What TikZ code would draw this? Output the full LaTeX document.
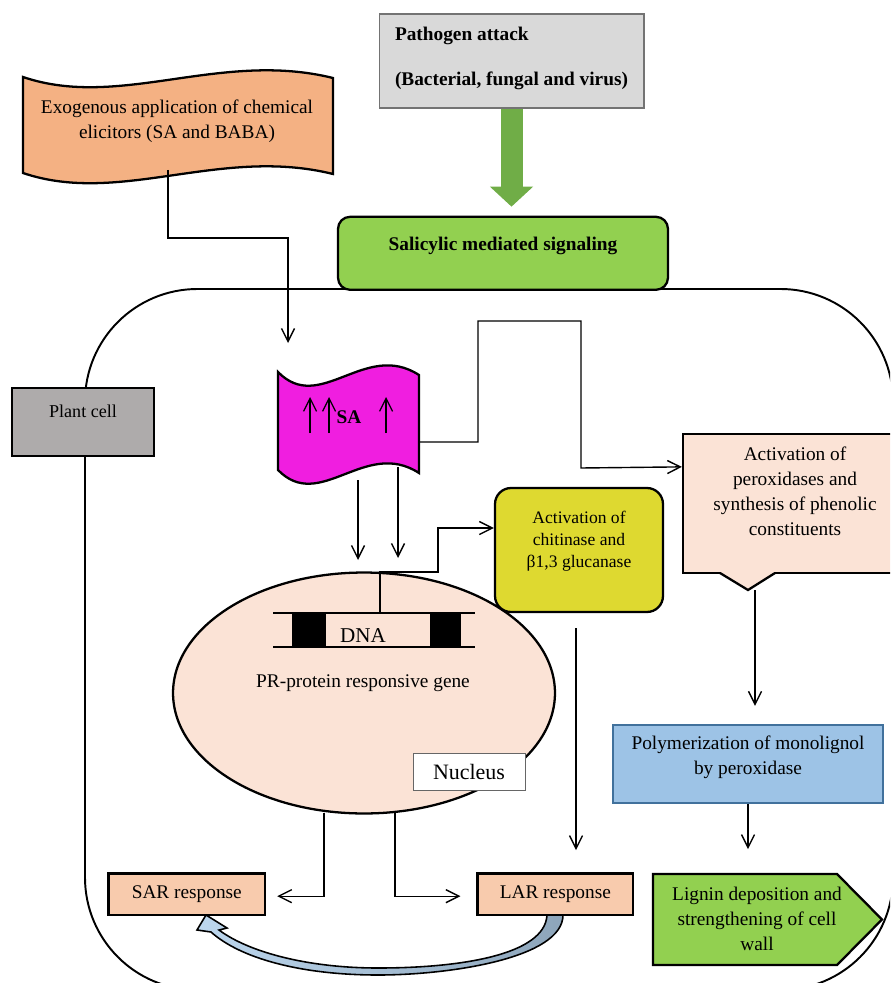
\documentclass[tikz,border=0pt]{standalone}
\usepackage{fontspec}
\setmainfont{Liberation Serif}
\usepackage{tikz}
\usetikzlibrary{arrows.meta, calc, positioning, shapes.geometric}

\definecolor{colorPathogen}{HTML}{D9D9D9}
\definecolor{colorSignal}{HTML}{92D050}
\definecolor{colorBlock}{HTML}{70AD47}
\definecolor{colorElicitor}{HTML}{F4B183}
\definecolor{colorSA}{HTML}{F01EE0}
\definecolor{colorChitinase}{HTML}{DED930}
\definecolor{colorPeach}{HTML}{FBE3D6}
\definecolor{colorResponse}{HTML}{F8CBAD}
\definecolor{colorPoly}{HTML}{9DC3E6}
\definecolor{colorPolyLine}{HTML}{41719C}
\definecolor{colorPlant}{HTML}{AEABAB}
\definecolor{colorCurveL}{HTML}{BDD7EE}
\definecolor{colorCurveR}{HTML}{8DA5BA}
\colorlet{colorLignin}{colorSignal}
\newcommand{\figfont}{\fontsize{11}{14.3}\selectfont}

\begin{document}
\begin{tikzpicture}[x=0.02cm, y=-0.02cm, >={Straight Barb[length=2.6mm,width=2.6mm]},
  every node/.style={font=\figfont, inner sep=0pt},
  box/.style={draw, line width=1.3pt, align=center},
  lift/.style={text height=0pt, text depth=#1},
  drop/.style={text height=#1, text depth=0pt},
  link/.style={->, line width=0.8pt},
  wave/.style={draw, line width=1.3pt}]
\clip (0,0) rectangle (890,983);

% plant cell outline
\draw[line width=1.1pt, rounded corners=2.25cm] (85,289) rectangle (893,990);

% top: pathogen and signaling
\node[box, fill=colorPathogen, draw=black!55, line width=0.6pt, align=left, minimum width=5.3cm, minimum height=1.88cm, drop=28.3pt, font=\figfont\bfseries] (path) at (511.5,61) {Pathogen attack\\[11.8pt](Bacterial, fungal and virus)};
\node[box, fill=colorSignal, rounded corners=0.24cm, minimum width=6.6cm, minimum height=1.46cm, lift=3.7pt, font=\figfont\bfseries] (sig) at (503,253.3) {Salicylic mediated signaling};
\draw[line width=0.44cm, colorBlock, -{Triangle[length=0.4cm,width=0.84cm]}] (path.south) -- ($(path.south |- sig.north)+(0,-9)$);

% elicitor banner
\draw[wave, fill=colorElicitor] (23,77) .. controls (120,110) and (220,50) .. (333,78) -- (333,174) .. controls (220,146) and (120,206) .. (23,173) -- cycle;
\node[align=center] (exo) at (177,121) {Exogenous application of chemical\\elicitors (SA and BABA)};
\coordinate (exoOut) at (168,170);

% SA banner
\draw[wave, fill=colorSA] (278,372) .. controls (320,415) and (365,340) .. (419,375) -- (419,473) .. controls (365,438) and (320,513) .. (278,470) -- cycle;
\node[font=\figfont\bfseries] (sa) at (349,417) {SA};
\foreach \x in {310,329,386}
  \draw[->, line width=0.7pt] (\x,433) -- (\x,397);
\coordinate (saIn) at (288,343);
\coordinate (saOut) at (419,442);
\coordinate (saL) at (358,480);
\coordinate (saR) at (398,467);

\node[box, fill=colorPlant, minimum width=2.84cm, minimum height=1.36cm, lift=4.9pt, font=\fontsize{10.3}{12}\selectfont] (plant) at (83,422) {Plant cell};

% nucleus with the gene
\node[ellipse, draw, line width=1.3pt, fill=colorPeach, minimum width=7.64cm, minimum height=4.82cm] (nuc) at (364,693) {};
\draw[line width=0.8pt] (273,613) -- (475,613) (273,647) -- (475,647);
\node[fill, minimum width=0.68cm, minimum height=0.68cm] (exonA) at (309,630) {};
\node[fill, minimum width=0.62cm, minimum height=0.68cm] (exonB) at (445.5,630) {};
\node[font=\fontsize{12}{14}\selectfont] (dna) at (363,636) {DNA};
\node (gene) at (363,683) {PR-protein responsive gene};
\node[draw=black!60, line width=0.5pt, fill=white, minimum width=2.24cm, minimum height=0.74cm, font=\fontsize{12.5}{14}\selectfont] (nucl) at (469,771.5) {Nucleus};
\coordinate (dnaTop) at (380,613);

% defence boxes
\node[box, fill=colorChitinase, rounded corners=0.32cm, minimum width=3.36cm, minimum height=2.48cm, drop=20.4pt, font=\fontsize{10}{12.6}\selectfont] (chit) at (579,550) {Activation of\\chitinase and\\β1,3 glucanase};
\node[box, fill=colorPeach, minimum width=4.48cm, minimum height=2.78cm, drop=36.8pt] (perox) at (795,503.5) {Activation of\\peroxidases and\\synthesis of phenolic\\constituents};
\coordinate (peroxTip) at (748,590);
\fill[colorPeach] (721,571) -- (721,573) -- (peroxTip) -- (774,573) -- (774,571) -- cycle;
\draw[line width=1.3pt] (720,573) -- (peroxTip) -- (775,573);
\node[box, fill=colorPoly, draw=colorPolyLine, minimum width=5.4cm, minimum height=1.56cm, drop=12.5pt] (poly) at (748,764) {Polymerization of monolignol\\by peroxidase};
\draw[line width=1.3pt, fill=colorLignin] (653,874) -- (837,874) -- (882,919.5) -- (837,965) -- (653,965) -- cycle;
\node[align=center] (lig) at (757,919) {Lignin deposition and\\strengthening of cell\\wall};

% responses
\draw[line width=0.9pt, left color=colorCurveL, right color=colorCurveR] (563,915) .. controls (563,958) and (450,975) .. (378,975) .. controls (300,975) and (240,958) .. (211,932) -- (197,930) -- (206,915) -- (227,928) -- (219,930) .. controls (250,953) and (310,968) .. (378,968) .. controls (460,968) and (545,955) .. (547,915) -- cycle;
\node[box, fill=colorResponse, minimum width=3.13cm, minimum height=0.834cm] (sar) at (186.8,894.2) {SAR response};
\node[box, fill=colorResponse, minimum width=3.11cm, minimum height=0.834cm] (lar) at (555.3,894.2) {LAR response};

% connectors
\draw[link] (exoOut) -- ++(0,68) -| (saIn);
\draw[link] (saOut) -| (478,321) -| (581,468) -- ($(perox.north west)+(0,34)$);
\draw[link] (saL) -- ++(0,80);
\draw[link] (saR) -- ++(0,91);
\draw[link] (dnaTop) -- (380,572) -| (438,528) -- ($(chit.west)+(0,-22)$);
\draw[link] ($(chit.south)+(-3,15)$) -- ++(0,222);
\draw[link] ($(peroxTip)+(7,0)$) -- ($(poly.north)+(7,-18)$);
\draw[link] (poly.south) -- ++(0,45);
\draw[link] ($(nuc.south)+(-40,-2)$) |- ($(sar.east)+(11,2)$);
\draw[link] ($(nuc.south)+(31,-2)$) |- ($(lar.west)+(-16,2)$);
\end{tikzpicture}
\end{document}
